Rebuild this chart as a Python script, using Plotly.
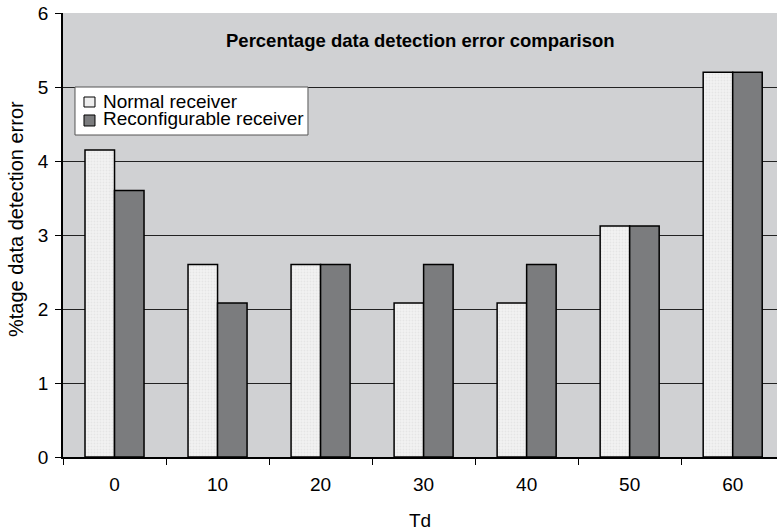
import plotly.graph_objects as go

categories = ["0", "10", "20", "30", "40", "50", "60"]
normal = [4.15, 2.6, 2.6, 2.08, 2.08, 3.12, 5.2]
reconf = [3.6, 2.08, 2.6, 2.6, 2.6, 3.12, 5.2]
y_ticks = [0, 1, 2, 3, 4, 5, 6]
series_names = ["Normal receiver", "Reconfigurable receiver"]
series_colors = ["#f2f2f2", "#7b7c7e"]

fig = go.Figure()
fig.add_trace(go.Bar(
    x=categories, y=normal, name=series_names[0],
    marker=dict(color=series_colors[0], line=dict(color="black", width=1.5),
                pattern=dict(shape=".", fgcolor="#d8d8d8", size=3, solidity=0.3)),
))
fig.add_trace(go.Bar(
    x=categories, y=reconf, name=series_names[1],
    marker=dict(color=series_colors[1], line=dict(color="black", width=1.5)),
))

# compact legend box drawn in paper coordinates (Excel style)
shapes = [
    dict(type="rect", xref="paper", yref="paper", x0=0.0168, x1=0.3431, y0=0.7252, y1=0.8333,
         fillcolor="white", line=dict(color="#555", width=1), layer="above"),
    dict(type="rect", xref="paper", yref="paper", x0=0.0294, x1=0.0448, y0=0.7883, y1=0.8108,
         fillcolor="#eeeeee", line=dict(color="black", width=1), layer="above"),
    dict(type="rect", xref="paper", yref="paper", x0=0.0294, x1=0.0448, y0=0.7455, y1=0.7703,
         fillcolor=series_colors[1], line=dict(color="black", width=1), layer="above"),
]
annotations = [
    dict(text="<b>Percentage data detection error comparison</b>",
         xref="paper", yref="paper", x=0.5, y=0.937,
         xanchor="center", yanchor="middle", showarrow=False, font=dict(size=18.5)),
    dict(text=series_names[0], xref="paper", yref="paper", x=0.0532, y=0.8018,
         xanchor="left", yanchor="middle", showarrow=False, font=dict(size=19)),
    dict(text=series_names[1], xref="paper", yref="paper", x=0.0532, y=0.7613,
         xanchor="left", yanchor="middle", showarrow=False, font=dict(size=19)),
    dict(text="%tage data detection error", xref="paper", yref="paper", x=-0.0658, y=0.536,
         xanchor="center", yanchor="middle", textangle=-90, showarrow=False,
         font=dict(size=20)),
]

fig.update_layout(
    width=777, height=531,
    margin=dict(l=63, r=0, t=13, b=74, autoexpand=False),
    paper_bgcolor="white", plot_bgcolor="#d0d1d3",
    barmode="group", bargap=0.427, bargroupgap=0,
    font=dict(family="Arial, Liberation Sans, sans-serif", size=18, color="black"),
    showlegend=False,
    shapes=shapes,
    annotations=annotations,
)
fig.update_xaxes(
    range=[-0.5, 6.43], tickson="boundaries", ticks="outside", ticklen=6,
    tickcolor="black", showline=True, linecolor="black", linewidth=1.5,
    ticklabelstandoff=9,
    title=dict(text="Td", font=dict(size=19), standoff=29), tickfont=dict(size=19),
    showgrid=False, automargin=False,
)
fig.update_yaxes(
    range=[0, 6], tickvals=y_ticks, ticks="outside", ticklen=6, tickcolor="black",
    showline=True, linecolor="black", linewidth=1.5, showgrid=True,
    ticklabelstandoff=3, ticklabeloverflow="allow",
    gridcolor="#222", gridwidth=1, zeroline=False,
    tickfont=dict(size=19), automargin=False,
)
fig.write_html("out.html", config={"displayModeBar": False},
               post_script="document.body.style.margin='0';")
